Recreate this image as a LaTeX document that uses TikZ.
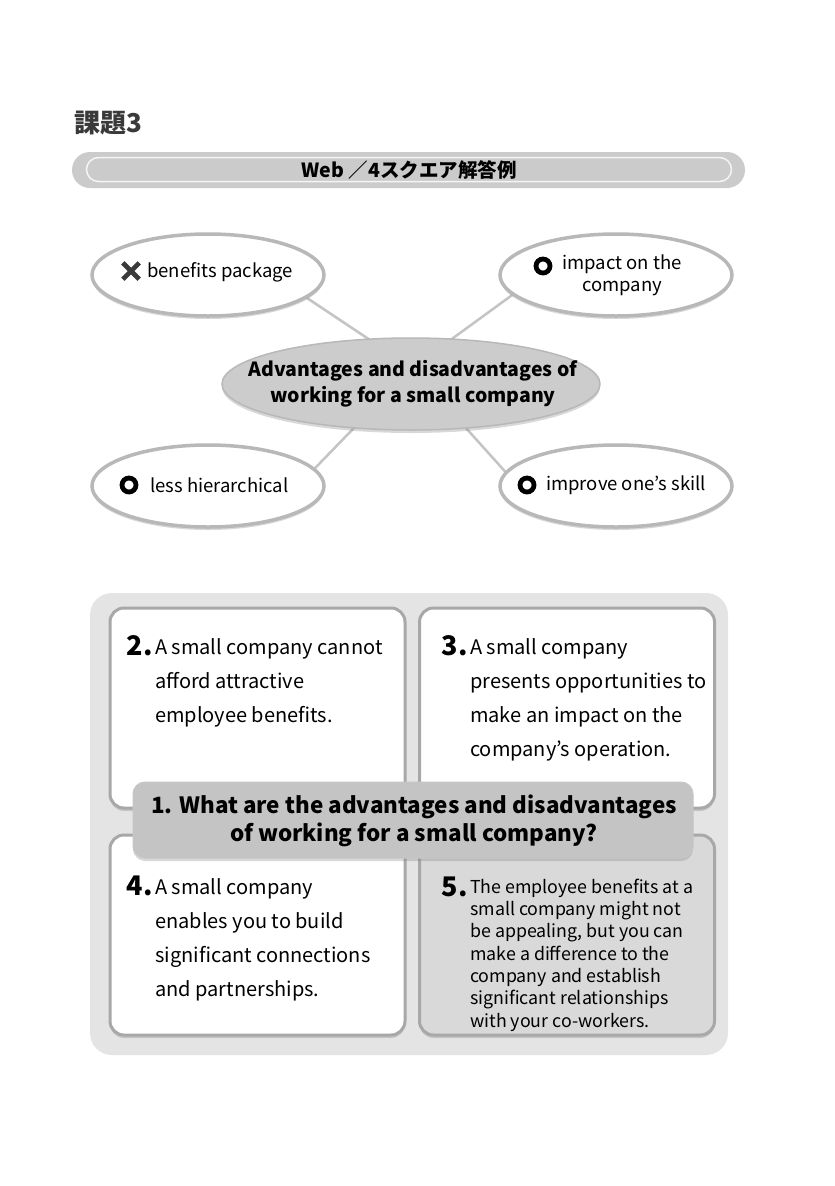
\documentclass[tikz,border=0pt]{standalone}
\usepackage{fontspec}
\setmainfont{Noto Sans CJK JP}
\usetikzlibrary{shapes.geometric,shadows,backgrounds}
\definecolor{bordergray}{HTML}{B8B8B8}
\definecolor{centerfill}{HTML}{CCCCCC}
\definecolor{panelfill}{HTML}{E4E4E4}
\definecolor{cardborder}{HTML}{A8A8A8}
\definecolor{qfill}{HTML}{C4C4C4}
\definecolor{card5fill}{HTML}{D9D9D9}
\definecolor{connline}{HTML}{C4C4C4}
\definecolor{titlegray}{HTML}{3A3A3A}
\definecolor{bannerfill}{HTML}{CBCBCB}
\begin{document}
\begin{tikzpicture}[x=1pt,y=-1pt,
  softshadow/.style={drop shadow={shadow xshift=0pt,shadow yshift=-3pt,opacity=0.3}},
  bubble/.style={ellipse, draw=bordergray, line width=3.5pt, fill=white,
    minimum width=232pt, minimum height=82pt, softshadow},
  hub/.style={ellipse, draw=bordergray, line width=1.5pt, fill=centerfill,
    minimum width=378pt, minimum height=92pt, softshadow},
  conn/.style={draw=connline, line width=2.5pt},
  ring/.style={circle, draw=black, line width=4.8pt, minimum size=14pt, inner sep=0pt},
  bubbletext/.style={font=\fontsize{18.5pt}{22pt}\selectfont, inner sep=0pt},
  card/.style={rectangle, rounded corners=14pt, draw=cardborder, line width=3pt, fill=white,
    minimum width=295pt, minimum height=200pt, softshadow},
  cardtext/.style={font=\fontsize{20pt}{34pt}\selectfont, align=left, inner sep=0pt, anchor=base west},
  cardnum/.style={font=\bfseries\fontsize{27pt}{30pt}\selectfont, inner sep=0pt, anchor=base east},
  smalltext/.style={font=\fontsize{17.8pt}{22.3pt}\selectfont, align=left, inner sep=0pt, anchor=base west},
]
\useasboundingbox (0,0) rectangle (835,1186);
\begin{scope}[on background layer]
\fill[white] (0,0) rectangle (835,1186);
\end{scope}

% heading
\node[font=\bfseries\fontsize{26pt}{30pt}\selectfont, text=titlegray, anchor=west, inner sep=0pt] (heading) at (74,123) {課題3};

% banner
\node[rectangle, rounded corners=18pt, fill=bannerfill, minimum width=673pt, minimum height=36pt, inner sep=0pt] (banner) at (408.5,170) {};
\node[rectangle, rounded corners=12pt, draw=white!92!gray, line width=1.5pt, minimum width=645pt, minimum height=24pt, inner sep=0pt] (bannerin) at (409,169.5) {};
\node[font=\bfseries\fontsize{19.5pt}{22pt}\selectfont, inner sep=0pt] (bannertext) at (409,170) {Web ／4スクエア解答例};

% bubbles
\node[bubble] (b1) at (208,275) {};
\node[bubble] (b2) at (616,275) {};
\node[bubble] (b3) at (208,486) {};
\node[bubble] (b4) at (616,486) {};
\node[hub] (hub) at (411,384) {};

% connector end points
\coordinate (hubc) at (412,368);
\coordinate (e1) at (280,280);
\coordinate (e2) at (541,274);
\coordinate (e3) at (290,494);
\coordinate (e4) at (528,497);

\begin{scope}[on background layer]
  \draw[conn] (e1) -- (hubc);
  \draw[conn] (e2) -- (hubc);
  \draw[conn] (e3) -- (hubc);
  \draw[conn] (e4) -- (hubc);
\end{scope}

\node[font=\bfseries\fontsize{19.5pt}{26pt}\selectfont, align=center, inner sep=0pt] (hubtext) at (413,384) {Advantages and disadvantages of\\working for a small company};

% icons and bubble labels
\node[inner sep=0pt, minimum size=16pt] (cross) at (131,271) {};
\draw[line width=4.6pt, draw=titlegray] (cross.north west) -- (cross.south east);
\draw[line width=4.6pt, draw=titlegray] (cross.south west) -- (cross.north east);
\node[bubbletext, anchor=west] (t1) at (147,272) {benefits package};

\node[ring] (r2) at (543,266) {};
\node[bubbletext, align=center] (t2) at (622,275) {impact on the\\company};

\node[ring] (r3) at (129,485) {};
\node[bubbletext, anchor=west] (t3) at (150,485) {less hierarchical};

\node[ring] (r4) at (527,485) {};
\node[bubbletext, anchor=west] (t4) at (546,485) {improve one's skill};

% bottom panel
\node[rectangle, rounded corners=22pt, fill=panelfill, minimum width=638pt, minimum height=462pt, inner sep=0pt] (panel) at (409,824) {};

\node[card] (c2) at (257.5,708) {};
\node[card] (c3) at (567,708) {};
\node[card] (c4) at (257.5,935) {};
\node[card, fill=card5fill] (c5) at (567,935) {};

\node[rectangle, rounded corners=12pt, fill=qfill, draw=gray!45, line width=1pt, minimum width=560pt, minimum height=76pt, softshadow] (q) at (413,820) {};
\node[font=\bfseries\fontsize{22.4pt}{28pt}\selectfont, align=center, inner sep=0pt] (qtext) at (414,821) {1. What are the advantages and disadvantages\\of working for a small company?};

% card texts (anchor = baseline of last line)
\node[cardnum] (n2) at (153,655) {2.};
\node[cardtext] (x2) at (155,722) {A small company cannot\\afford attractive\\employee benefits.};

\node[cardnum] (n3) at (468,655) {3.};
\node[cardtext] (x3) at (470,756) {A small company\\presents opportunities to\\make an impact on the\\company's operation.};

\node[cardnum] (n4) at (153,895) {4.};
\node[cardtext] (x4) at (155,996) {A small company\\enables you to build\\significant connections\\and partnerships.};

\node[cardnum] (n5) at (468,896) {5.};
\node[smalltext] (x5) at (470,1027) {The employee benefits at a\\small company might not\\be appealing, but you can\\make a difference to the\\company and establish\\significant relationships\\with your co-workers.};
\end{tikzpicture}
\end{document}
